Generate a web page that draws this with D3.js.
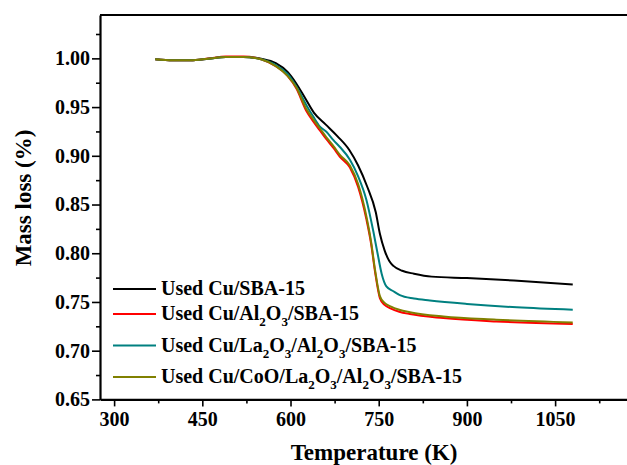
<!DOCTYPE html>
<html>
<head>
<meta charset="utf-8">
<script src="https://cdn.jsdelivr.net/npm/d3@7"></script>
<style>
  body { margin: 0; background: #fff; }
  text { font-family: "Liberation Serif", "Times New Roman", serif; font-weight: bold; }
</style>
</head>
<body>
<div id="chart"></div>
<script>
// temperature (K) and mass fraction
const tBlack = [370, 400, 430, 460, 490, 520, 550, 575, 595, 610, 625, 640, 660, 680, 700, 715, 730, 745, 752, 760, 768, 775, 790, 810, 840, 900, 980, 1080];
const mBlack = [0.999, 0.998, 0.998, 0.9995, 1.0015, 1.0015, 0.9995, 0.995, 0.986, 0.974, 0.959, 0.944, 0.932, 0.920, 0.906, 0.890, 0.869, 0.842, 0.820, 0.803, 0.792, 0.787, 0.782, 0.779, 0.776, 0.7745, 0.772, 0.768];

const tRed = [370, 400, 430, 460, 490, 520, 550, 575, 595, 610, 627, 639, 650, 661, 673, 684, 701, 715, 729, 737, 744, 752, 760, 770, 785, 803, 860, 950, 1080];
const mRed = [0.999, 0.998, 0.998, 0.9998, 1.002, 1.002, 0.999, 0.992, 0.982, 0.969, 0.946, 0.935, 0.926, 0.917, 0.908, 0.899, 0.888, 0.868, 0.835, 0.810, 0.780, 0.754, 0.747, 0.7435, 0.740, 0.7376, 0.7335, 0.730, 0.7275];

const tTeal = [370, 400, 430, 460, 490, 520, 550, 575, 595, 610, 627, 639, 650, 661, 673, 684, 701, 715, 729, 741, 748, 755, 763, 775, 786, 810, 837, 900, 985, 1080];
const mTeal = [0.999, 0.998, 0.998, 0.9995, 1.0015, 1.0015, 0.999, 0.993, 0.984, 0.971, 0.952, 0.940, 0.930, 0.9247, 0.916, 0.909, 0.896, 0.879, 0.855, 0.822, 0.800, 0.779, 0.766, 0.761, 0.757, 0.7535, 0.7515, 0.748, 0.7445, 0.742];

const tOlive = [370, 400, 430, 460, 490, 520, 550, 575, 595, 610, 627, 639, 650, 661, 673, 684, 701, 715, 729, 737, 744, 752, 760, 770, 785, 803, 860, 950, 1080];
const mOlive = [0.999, 0.998, 0.998, 0.9996, 1.0015, 1.0015, 0.999, 0.992, 0.982, 0.970, 0.948, 0.937, 0.928, 0.919, 0.910, 0.901, 0.890, 0.871, 0.838, 0.812, 0.782, 0.756, 0.749, 0.7455, 0.742, 0.7395, 0.735, 0.7318, 0.729];

const xTicks = [300, 450, 600, 750, 900, 1050];
const xMinor = [375, 525, 675, 825, 975, 1125];
const yTicks = [0.65, 0.70, 0.75, 0.80, 0.85, 0.90, 0.95, 1.00];
const yMinor = [0.675, 0.725, 0.775, 0.825, 0.875, 0.925, 0.975, 1.025];

// legend entries: [text, isSubscript]
const legendItems = [
  {color: '#000000', parts: [['Used Cu/SBA-15']]},
  {color: '#ff0000', parts: [['Used Cu/Al'], ['2', 1], ['O'], ['3', 1], ['/SBA-15']]},
  {color: '#008080', parts: [['Used Cu/La'], ['2', 1], ['O'], ['3', 1], ['/Al'], ['2', 1], ['O'], ['3', 1], ['/SBA-15']]},
  {color: '#808000', parts: [['Used Cu/CoO/La'], ['2', 1], ['O'], ['3', 1], ['/Al'], ['2', 1], ['O'], ['3', 1], ['/SBA-15']]}
];
const legendRows = [295, 320, 351.5, 383];

const series = [
  {t: tBlack, m: mBlack, color: '#000000'},
  {t: tRed, m: mRed, color: '#ff0000'},
  {t: tTeal, m: mTeal, color: '#008080'},
  {t: tOlive, m: mOlive, color: '#808000'}
];

const width = 627, height = 465;
const mLeft = 100, mTop = 15, mBottom = 399.4;

const svg = d3.select('#chart').append('svg')
  .attr('width', width)
  .attr('height', height);

const x = d3.scaleLinear().domain([276, 1200]).range([mLeft, mLeft + 924 * 0.588]);
const y = d3.scaleLinear().domain([0.65, 1.0445]).range([mBottom, mTop]);

const line = d3.line()
  .x(d => x(d[0]))
  .y(d => y(d[1]))
  .curve(d3.curveMonotoneX);

series.forEach(s => {
  svg.append('path')
    .datum(s.t.map((t, i) => [t, s.m[i]]))
    .attr('fill', 'none')
    .attr('stroke', s.color)
    .attr('stroke-width', 2)
    .attr('d', line);
});

// frame top
svg.append('line')
  .attr('x1', mLeft).attr('x2', width + 20)
  .attr('y1', mTop).attr('y2', mTop)
  .attr('stroke', '#000').attr('stroke-width', 2.2);

// x axis
const gx = svg.append('g').attr('transform', `translate(0,${mBottom})`);
gx.call(d3.axisBottom(x).tickValues(xTicks).tickSize(7).tickSizeOuter(0).tickPadding(5).tickFormat(d3.format('d')));
gx.append('g').call(d3.axisBottom(x).tickValues(xMinor).tickSize(4).tickSizeOuter(0).tickFormat(''))
  .select('.domain').remove();

// y axis
const gy = svg.append('g').attr('transform', `translate(${mLeft},0)`);
gy.call(d3.axisLeft(y).tickValues(yTicks).tickSize(8).tickSizeOuter(0).tickPadding(2).tickFormat(d3.format('.2f')));
gy.append('g').call(d3.axisLeft(y).tickValues(yMinor).tickSize(4).tickSizeOuter(0).tickFormat(''))
  .select('.domain').remove();

svg.selectAll('.domain').attr('stroke-width', 2.2);
svg.selectAll('.tick line').attr('stroke-width', 1.6);
svg.selectAll('.tick text')
  .attr('font-size', 20)
  .attr('fill', '#000')
  .style('font-family', '"Liberation Serif", serif')
  .style('font-weight', 'bold');

// axis titles
svg.append('text')
  .attr('x', 374).attr('y', 460)
  .attr('text-anchor', 'middle')
  .attr('font-size', 23)
  .text('Temperature (K)');

svg.append('text')
  .attr('transform', 'translate(31,198) rotate(-90)')
  .attr('text-anchor', 'middle')
  .attr('font-size', 23)
  .text('Mass loss (%)');

// legend
const leg = svg.append('g');
legendItems.forEach((item, i) => {
  const by = legendRows[i];
  leg.append('line')
    .attr('x1', 113).attr('x2', 156)
    .attr('y1', by - 6).attr('y2', by - 6)
    .attr('stroke', item.color).attr('stroke-width', 2);
  const txt = leg.append('text')
    .attr('x', 161).attr('y', by)
    .attr('font-size', 20);
  let wasSub = false;
  item.parts.forEach(p => {
    const isSub = !!p[1];
    const ts = txt.append('tspan').text(p[0]);
    let dy = 0;
    if (isSub && !wasSub) dy = 6;
    if (!isSub && wasSub) dy = -6;
    ts.attr('dy', dy);
    if (isSub) ts.attr('font-size', 13);
    wasSub = isSub;
  });
});
</script>
</body>
</html>
